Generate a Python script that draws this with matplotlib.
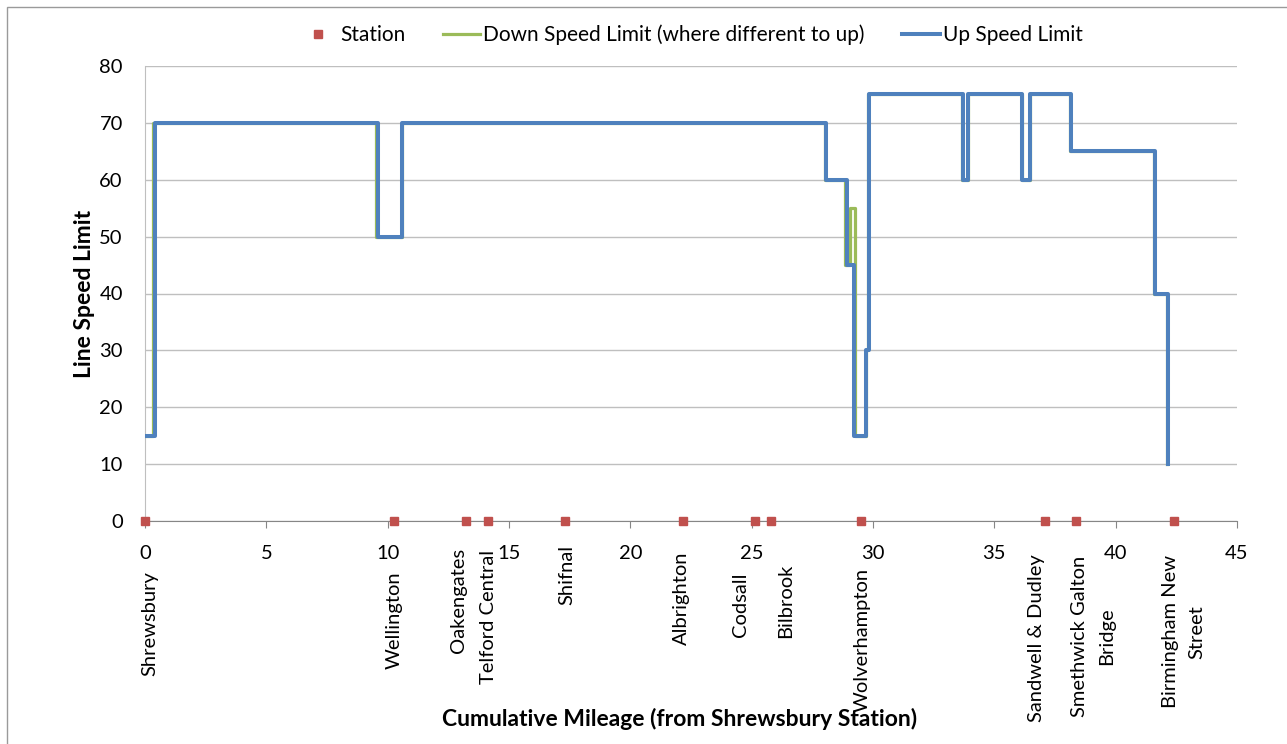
import matplotlib
matplotlib.use('Agg')
import matplotlib.pyplot as plt
from matplotlib.patches import Rectangle

plt.rcParams['font.family'] = ['Lato', 'DejaVu Sans']

# stations along the route (cumulative miles from Shrewsbury)
station_names = ['Shrewsbury', 'Wellington', 'Oakengates', 'Telford Central', 'Shifnal',
                 'Albrighton', 'Codsall', 'Bilbrook', 'Wolverhampton', 'Sandwell & Dudley',
                 'Smethwick Galton\nBridge', 'Birmingham New\nStreet']
station_miles = [0.0, 10.27, 13.21, 14.13, 17.31, 22.15, 25.12, 25.78, 29.52, 37.08, 38.38, 42.39]
station_speed = [0] * len(station_miles)

# speed limit changes (mile where the new limit starts, limit in mph)
up_miles = [0, 0.41, 9.61, 10.58, 28.08, 28.91, 29.21, 29.71, 29.84, 33.69, 33.92,
            36.16, 36.49, 38.14, 41.61, 42.16]
up_speed = [15, 70, 50, 70, 60, 45, 15, 30, 75, 60, 75, 60, 75, 65, 40, 10]

down_miles = [0, 0.35, 9.53, 10.58, 28.03, 28.84, 29.05, 29.25, 29.71, 29.80, 33.67,
              33.92, 36.15, 36.49, 38.13, 41.59, 42.12]
down_speed = [15, 70, 50, 70, 60, 45, 55, 15, 30, 75, 60, 75, 60, 75, 65, 40, 10]

# label nudges in pixels (dx, drop of label centre below axis)
label_nudge = [(5, 103), (0, 99), (-7, 79), (1, 96), (2, 54), (-1, 77), (-14, 84),
               (15, 80), (1, 119), (-8, 117), (17, 115), (10, 111)]
line_gap = 27

fig = plt.figure(figsize=(12.87, 7.44), dpi=100)
ax = fig.add_axes([145/1287, 1 - 521/744, (1237-145)/1287, (521-66)/744])

ax.step(down_miles, down_speed, where='post', color='#9BBB59', lw=2.3,
        label='Down Speed Limit (where different to up)', zorder=3)
ax.step(up_miles, up_speed, where='post', color='#4F81BD', lw=2.9,
        label='Up Speed Limit', zorder=4)
ax.plot(station_miles, station_speed, 's', color='#C0504D', ms=5.5, ls='none',
        label='Station', clip_on=False, zorder=5)

for name, m, (dx, dy) in zip(station_names, station_miles, label_nudge):
    lines = name.split('\n')
    n = len(lines)
    for i, txt in enumerate(lines):
        off = dx + (i - (n - 1) / 2) * line_gap
        ax.annotate(txt, xy=(m, 0), xytext=(off, -dy), textcoords='offset pixels',
                    rotation=90, ha='center', va='center',
                    fontsize=14.5, color='black', annotation_clip=False)

ax.set_xlim(0, 45)
ax.set_ylim(0, 80)
ax.set_xticks(range(0, 46, 5))
ax.set_yticks(range(0, 81, 10))
ax.tick_params(axis='x', length=5, color='#868686', labelsize=14.5, pad=12.5)
ax.tick_params(axis='y', length=0, labelsize=14.5, pad=16)
ax.grid(axis='y', color='#BFBFBF', lw=1)
ax.set_axisbelow(True)
for s in ['top', 'right']:
    ax.spines[s].set_visible(False)
ax.spines['left'].set_color('#BFBFBF')
ax.spines['bottom'].set_color('#868686')

ax.set_ylabel('Line Speed Limit', fontsize=16.5, fontweight='bold', labelpad=3)
fig.text(680/1287, 1 - 719/744, 'Cumulative Mileage (from Shrewsbury Station)',
         ha='center', va='center', fontsize=16.5, fontweight='bold')

h, l = ax.get_legend_handles_labels()
order = [2, 0, 1]
fig.legend([h[i] for i in order], [l[i] for i in order], loc='center',
           bbox_to_anchor=(691/1287, 1 - 35/744), ncol=3, frameon=False,
           fontsize=15, handlelength=1.8, columnspacing=1.8, handletextpad=0.15)

fig.patches.append(Rectangle((7/1287, -0.1), 1.2, 1 - 7/744 + 0.1, transform=fig.transFigure,
                             fill=False, edgecolor='#9A9A9A', lw=1))

fig.savefig('out.png', dpi=100)
